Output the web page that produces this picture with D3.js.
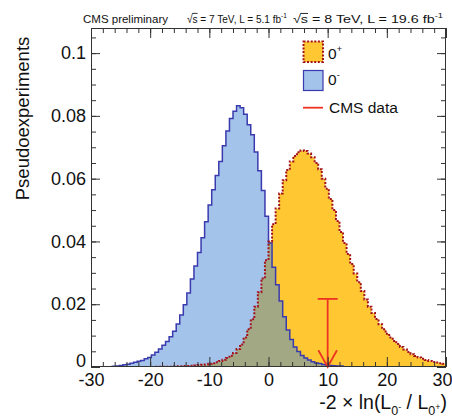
<!DOCTYPE html>
<html>
<head>
<meta charset="utf-8">
<script src="https://cdn.jsdelivr.net/npm/d3@7"></script>
<style>
  html, body { margin: 0; padding: 0; background: #fff; }
  svg { display: block; font-family: "Liberation Sans", Arial, Helvetica, sans-serif; }
</style>
</head>
<body>
<svg id="chart" width="452" height="417"></svg>
<script>
// Histogram binning: 100 bins of width 0.6 on [-30, 30]
const binLow = -30;
const binWidth = 0.6;

// Pseudoexperiment distributions of -2 ln(L_0- / L_0+), normalised to unit area
const pseudoMinus = [
  0, 0, 0, 0, 0.0001, 0.0001, 0.0002, 0.0003, 0.0005, 0.0007,
  0.0009, 0.0012, 0.0015, 0.0018, 0.0021, 0.0026, 0.0030, 0.0038, 0.0047, 0.0057,
  0.0069, 0.0081, 0.0096, 0.0114, 0.0137, 0.0166, 0.0198, 0.0236, 0.0280, 0.0322,
  0.0365, 0.0412, 0.0463, 0.0516, 0.0565, 0.0610, 0.0655, 0.0705, 0.0752, 0.0792,
  0.0815, 0.0832, 0.0826, 0.0805, 0.0772, 0.0740, 0.0685, 0.0625, 0.0562, 0.0480,
  0.0395, 0.0318, 0.0262, 0.0210, 0.0160, 0.0118, 0.0088, 0.0064, 0.0049, 0.0037,
  0.0029, 0.0022, 0.0017, 0.0013, 0.0011, 0.0008, 0.0006, 0.0005, 0.0004, 0.0003,
  0.0003, 0.0001, 0, 0, 0, 0, 0, 0, 0, 0,
  0, 0, 0, 0, 0, 0, 0, 0, 0, 0,
  0, 0, 0, 0, 0, 0, 0, 0, 0, 0
];
const pseudoPlus = [
  0, 0, 0, 0, 0, 0, 0, 0, 0, 0,
  0, 0, 0, 0, 0, 0, 0, 0, 0.0001, 0.0001,
  0.0001, 0.0001, 0.0001, 0.0002, 0.0002, 0.0002, 0.0003, 0.0003, 0.0004, 0.0005,
  0.0006, 0.0007, 0.0008, 0.0010, 0.0012, 0.0015, 0.0019, 0.0023, 0.0029, 0.0036,
  0.0045, 0.0057, 0.0072, 0.0094, 0.0120, 0.0152, 0.0192, 0.0238, 0.0282, 0.0340,
  0.0400, 0.0455, 0.0505, 0.0553, 0.0595, 0.0628, 0.0655, 0.0672, 0.0684, 0.0690,
  0.0688, 0.0680, 0.0668, 0.0650, 0.0630, 0.0600, 0.0568, 0.0535, 0.0500, 0.0465,
  0.0430, 0.0395, 0.0360, 0.0328, 0.0298, 0.0270, 0.0242, 0.0215, 0.0192, 0.0172,
  0.0153, 0.0136, 0.0120, 0.0106, 0.0094, 0.0083, 0.0073, 0.0064, 0.0056, 0.0048,
  0.0041, 0.0035, 0.0030, 0.0026, 0.0022, 0.0019, 0.0016, 0.0014, 0.0012, 0.0010
];

// Observed value and the height of its arrow marker
const cmsData = 10.0;
const cmsArrowTop = 0.0217;

// Axis ticks
const xTicks = [-30, -20, -10, 0, 10, 20, 30];
const xTickLabels = ["-30", "-20", "-10", "0", "10", "20", "30"];
const yTicks = [0, 0.02, 0.04, 0.06, 0.08, 0.1];
const yTickLabels = ["0", "0.02", "0.04", "0.06", "0.08", "0.1"];

const svg = d3.select("#chart");
const frame = { left: 91, right: 446, top: 28, bottom: 367 };

const x = d3.scaleLinear().domain([-30, 30]).range([frame.left, frame.right]);
const y = d3.scaleLinear().domain([0, 0.108]).range([frame.bottom, frame.top]);

// Translucent blue for the 0- histogram so the 0+ fill shows through where they overlap
const minusFill = "rgba(72,136,214,0.5)";
const plusFill = "#ffc833";
const minusLine = "#3a3aae";
const plusLine = "#a3121b";

const defs = svg.append("defs");
defs.append("clipPath").attr("id", "frameClip")
  .append("rect").attr("x", frame.left).attr("y", frame.top)
  .attr("width", frame.right - frame.left).attr("height", frame.bottom - frame.top);

// Turn a list of bin contents into step points
function stepPoints(values) {
  const pts = values.map((v, i) => [binLow + i * binWidth, v]);
  pts.push([binLow + values.length * binWidth, values[values.length - 1]]);
  return pts;
}

const area = d3.area().curve(d3.curveStepAfter)
  .x(d => x(d[0])).y0(y(0)).y1(d => y(d[1]));
const line = d3.line().curve(d3.curveStepAfter)
  .x(d => x(d[0])).y(d => y(d[1]));

const plot = svg.append("g").attr("clip-path", "url(#frameClip)");

const plusPts = stepPoints(pseudoPlus);
const minusPts = stepPoints(pseudoMinus);

plot.append("path").attr("d", area(plusPts)).attr("fill", plusFill);
plot.append("path").attr("d", area(minusPts)).attr("fill", minusFill);
plot.append("path").attr("d", line(minusPts.filter((d, i) => i >= 3 && i <= 73)))
  .attr("fill", "none").attr("stroke", minusLine).attr("stroke-width", 1.5);
plot.append("path").attr("d", line([[binLow, 0]].concat(plusPts)))
  .attr("fill", "none").attr("stroke", plusLine).attr("stroke-width", 2)
  .attr("stroke-dasharray", "2,1.6");

// CMS observed value: vertical arrow down to the axis
const red = "#ee3324";
const ax = x(cmsData);
const arrow = svg.append("g").attr("stroke", red).attr("stroke-width", 1.8).attr("fill", "none");
arrow.append("line").attr("x1", ax).attr("x2", ax).attr("y1", y(cmsArrowTop)).attr("y2", y(0));
arrow.append("line").attr("x1", ax - 10).attr("x2", ax + 10).attr("y1", y(cmsArrowTop)).attr("y2", y(cmsArrowTop));
arrow.append("path").attr("d", `M${ax - 9.3},${y(0) - 16.7} L${ax},${y(0)} L${ax + 9.3},${y(0) - 16.7}`);

// Axes with major and minor ticks on all four sides
const axisColor = "#333";
function styleAxis(g) {
  g.select(".domain").remove();
  g.selectAll(".tick line").attr("stroke", axisColor);
  g.selectAll("text").attr("fill", "#111").attr("font-size", 18)
    .attr("font-family", "\"Liberation Sans\", Arial, Helvetica, sans-serif");
}
const xMinor = d3.range(-30, 30.001, 2);
const yMinor = d3.range(0, 0.1051, 0.005);

svg.append("g").attr("transform", `translate(0,${frame.bottom})`)
  .call(d3.axisBottom(x).tickValues(xMinor).tickSize(-5).tickFormat(""))
  .call(styleAxis);
const xAxisG = svg.append("g").attr("transform", `translate(0,${frame.bottom})`)
  .call(d3.axisBottom(x).tickValues(xTicks).tickSize(-10).tickPadding(6)
    .tickFormat((d, i) => xTickLabels[i]))
  .call(styleAxis);
// keep the last label inside the page edge
xAxisG.selectAll(".tick text").filter(d => d === 30)
  .attr("text-anchor", "end").attr("x", 452 - frame.right);

svg.append("g").attr("transform", `translate(0,${frame.top})`)
  .call(d3.axisTop(x).tickValues(xMinor).tickSize(-5).tickFormat(""))
  .call(styleAxis);
svg.append("g").attr("transform", `translate(0,${frame.top})`)
  .call(d3.axisTop(x).tickValues(xTicks).tickSize(-10).tickFormat(""))
  .call(styleAxis);

svg.append("g").attr("transform", `translate(${frame.left},0)`)
  .call(d3.axisLeft(y).tickValues(yMinor).tickSize(-5).tickFormat(""))
  .call(styleAxis);
const yAxisG = svg.append("g").attr("transform", `translate(${frame.left},0)`)
  .call(d3.axisLeft(y).tickValues(yTicks).tickSize(-9).tickPadding(5)
    .tickFormat((d, i) => yTickLabels[i]))
  .call(styleAxis);
// the zero label sits just above the corner so it clears the x labels
yAxisG.selectAll(".tick text").filter(d => d === 0).attr("dy", "-0.05em");

svg.append("g").attr("transform", `translate(${frame.right},0)`)
  .call(d3.axisRight(y).tickValues(yMinor).tickSize(-5).tickFormat(""))
  .call(styleAxis);
svg.append("g").attr("transform", `translate(${frame.right},0)`)
  .call(d3.axisRight(y).tickValues(yTicks).tickSize(-9).tickFormat(""))
  .call(styleAxis);

// Frame
svg.append("rect").attr("x", frame.left + 0.5).attr("y", frame.top + 0.5)
  .attr("width", frame.right - frame.left - 1).attr("height", frame.bottom - frame.top - 1)
  .attr("fill", "none").attr("stroke", axisColor).attr("stroke-width", 1);

// Axis titles
svg.append("text")
  .attr("transform", "translate(28.5,36.7) rotate(-90)")
  .attr("text-anchor", "end").attr("font-size", 18.5).attr("fill", "#111")
  .text("Pseudoexperiments");

const xt = svg.append("text").attr("x", 447).attr("y", 409)
  .attr("text-anchor", "end").attr("font-size", 19.5).attr("fill", "#111");
xt.append("tspan").text("-2 \u00d7 ln(L");
xt.append("tspan").attr("font-size", 12.5).attr("dy", 6).text("0");
xt.append("tspan").attr("font-size", 9).attr("dy", -5).text("-");
xt.append("tspan").attr("dy", -1).text(" / L");
xt.append("tspan").attr("font-size", 12.5).attr("dy", 6).text("0");
xt.append("tspan").attr("font-size", 9).attr("dy", -5).text("+");
xt.append("tspan").attr("dy", -1).text(")");

// Header line
const hdrSize = 11.5, hdrY = 22.7;
svg.append("text").attr("x", 83).attr("y", hdrY).attr("font-size", hdrSize).attr("fill", "#111")
  .text("CMS preliminary");

// "√s = ... fb^-1" squeezed horizontally to its slot width
function energyLabel(x0, width, rest) {
  const g = svg.append("g");
  const t = g.append("text").attr("x", 0).attr("y", hdrY).attr("font-size", hdrSize).attr("fill", "#111");
  t.append("tspan").text("\u221a");
  t.append("tspan").text("s");
  t.append("tspan").text(rest);
  t.append("tspan").attr("font-size", 7.5).attr("dy", -4.5).text("-1");
  const node = t.node();
  const rw = node.getSubStringLength(0, 1);
  const sw = node.getSubStringLength(1, 1);
  const full = node.getComputedTextLength();
  g.append("line").attr("x1", rw - 0.5).attr("x2", rw + sw)
    .attr("y1", hdrY - 9.3).attr("y2", hdrY - 9.3)
    .attr("stroke", "#111").attr("stroke-width", 0.9);
  g.attr("transform", `translate(${x0},0) scale(${width / full},1)`);
}
energyLabel(187, 100, " = 7 TeV, L = 5.1 fb");
energyLabel(293, 150, " = 8 TeV, L = 19.6 fb");

// Legend
const lg = svg.append("g");
lg.append("rect").attr("x", 303.5).attr("y", 41.5).attr("width", 19.5).attr("height", 20.5)
  .attr("fill", plusFill).attr("stroke", plusLine).attr("stroke-width", 2)
  .attr("stroke-dasharray", "2,1.6");
lg.append("rect").attr("x", 303.5).attr("y", 70.5).attr("width", 19.5).attr("height", 20)
  .attr("fill", minusFill).attr("stroke", minusLine).attr("stroke-width", 1.2);
lg.append("line").attr("x1", 303).attr("x2", 323).attr("y1", 107.7).attr("y2", 107.7)
  .attr("stroke", red).attr("stroke-width", 1.8);

const legSize = 15.5;
const l1 = lg.append("text").attr("x", 328).attr("y", 59.3).attr("font-size", legSize).attr("fill", "#111");
l1.append("tspan").text("0");
l1.append("tspan").attr("font-size", 9).attr("dy", -7).text("+");
const l2 = lg.append("text").attr("x", 328).attr("y", 84.5).attr("font-size", legSize).attr("fill", "#111");
l2.append("tspan").text("0");
l2.append("tspan").attr("font-size", 9).attr("dy", -7).text("-");
lg.append("text").attr("x", 329).attr("y", 112.7).attr("font-size", legSize).attr("fill", "#111")
  .text("CMS data");
</script>
</body>
</html>
